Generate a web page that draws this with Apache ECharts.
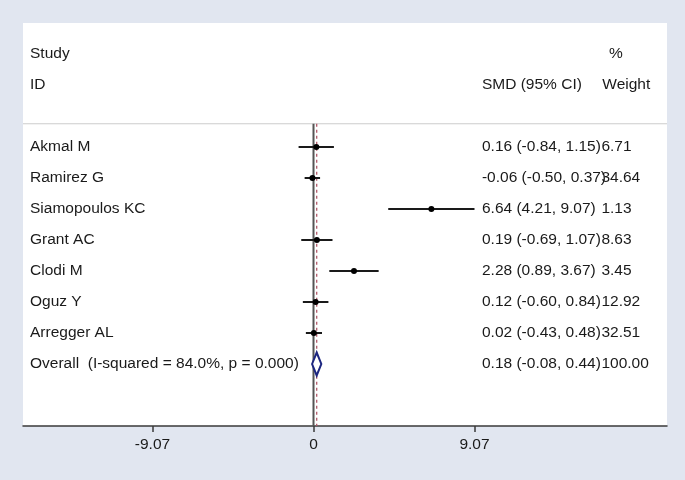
<!DOCTYPE html>
<html>
<head>
<meta charset="utf-8">
<script src="https://cdn.jsdelivr.net/npm/echarts@6/dist/echarts.min.js"></script>
<style>
  html, body { margin: 0; padding: 0; }
  #main { width: 685px; height: 480px; }
</style>
</head>
<body>
<div id="main"></div>
<script>
  // study data (SMD with 95% CI, % weight)
  const studies = ['Akmal M', 'Ramirez G', 'Siamopoulos KC', 'Grant AC', 'Clodi M', 'Oguz Y', 'Arregger AL'];
  const smd = [0.16, -0.06, 6.64, 0.19, 2.28, 0.12, 0.02];
  const lower = [-0.84, -0.50, 4.21, -0.69, 0.89, -0.60, -0.43];
  const upper = [1.15, 0.37, 9.07, 1.07, 3.67, 0.84, 0.48];
  const weights = [6.71, 34.64, 1.13, 8.63, 3.45, 12.92, 32.51];

  const overallLabel = 'Overall  (I-squared = 84.0%, p = 0.000)';
  const overallSmd = 0.18;
  const overallLower = -0.08;
  const overallUpper = 0.44;
  const overallWeight = 100.0;

  const xTicks = [-9.07, 0, 9.07];

  // layout (axis units)
  const X_MIN = -16.365;
  const X_MAX = 19.914;
  const COL_LABEL = -15.97;
  const COL_CI = 9.49;
  const COL_W = 16.22;
  const COL_PCT = 16.65;
  const SEP_Y = 0.25;
  const FONT = "'Liberation Sans', Arial, sans-serif";
  const FS = 15.5;
  const TXT = '#1a1a1a';

  const ciText = (m, l, u) => m.toFixed(2) + ' (' + l.toFixed(2) + ', ' + u.toFixed(2) + ')';

  function text(pt, str, align) {
    return {
      type: 'text',
      x: pt[0],
      y: pt[1],
      style: { text: str, fill: TXT, font: FS + 'px ' + FONT, align: align || 'left', verticalAlign: 'middle' },
    };
  }

  const studyData = studies.map((s, i) => [smd[i], lower[i], upper[i], i + 1, weights[i]]);

  const chart = echarts.init(document.getElementById('main'));
  const option = {
    backgroundColor: '#e1e6f0',
    animation: false,
    grid: {
      left: 23,
      right: 18,
      top: 23,
      bottom: 54,
      show: true,
      backgroundColor: '#ffffff',
      borderWidth: 0,
    },
    xAxis: {
      type: 'value',
      min: X_MIN,
      max: X_MAX,
      splitLine: { show: false },
      axisLine: { show: true, onZero: false, lineStyle: { color: '#3a3a3a', width: 1.5 } },
      axisTick: { show: true, customValues: xTicks, length: 6, lineStyle: { color: '#3a3a3a', width: 1.5 } },
      axisLabel: {
        customValues: xTicks,
        formatter: (v) => String(v),
        margin: 11,
        fontSize: FS,
        fontFamily: FONT,
        color: TXT,
      },
    },
    yAxis: { type: 'value', min: -3, max: 10, inverse: true, show: false },
    series: [
      {
        // header + separator + reference lines
        type: 'custom',
        data: [[0]],
        z: 1,
        renderItem: function (params, api) {
          const sepL = api.coord([X_MIN, SEP_Y]);
          const sepR = api.coord([X_MAX, SEP_Y]);
          const z0 = api.coord([0, SEP_Y]);
          const z1 = api.coord([0, 10]);
          const o0 = api.coord([overallSmd, SEP_Y]);
          const o1 = api.coord([overallSmd, 10]);
          return {
            type: 'group',
            children: [
              { type: 'line', shape: { x1: sepL[0], y1: sepL[1], x2: sepR[0], y2: sepR[1] }, style: { stroke: '#cccccc', lineWidth: 1.2 } },
              { type: 'line', shape: { x1: z0[0], y1: z0[1], x2: z1[0], y2: z1[1] }, style: { stroke: '#555555', lineWidth: 2 } },
              { type: 'line', shape: { x1: o0[0], y1: o0[1], x2: o1[0], y2: o1[1] }, style: { stroke: '#b05a6a', lineWidth: 1.3, lineDash: [3, 3] } },
              text(api.coord([COL_LABEL, -2]), 'Study'),
              text(api.coord([COL_LABEL, -1]), 'ID'),
              text(api.coord([COL_CI, -1]), 'SMD (95% CI)'),
              text(api.coord([COL_PCT, -2]), '%'),
              text(api.coord([COL_W + 0.05, -1]), 'Weight'),
            ],
          };
        },
      },
      {
        // individual studies
        type: 'custom',
        data: studyData,
        z: 3,
        renderItem: function (params, api) {
          const i = params.dataIndex;
          const y = api.value(3);
          const a = api.coord([api.value(1), y]);
          const b = api.coord([api.value(2), y]);
          const c = api.coord([api.value(0), y]);
          return {
            type: 'group',
            children: [
              { type: 'line', shape: { x1: a[0], y1: a[1], x2: b[0], y2: b[1] }, style: { stroke: '#1a1a1a', lineWidth: 2 } },
              { type: 'circle', shape: { cx: c[0], cy: c[1], r: 3 }, style: { fill: '#000' } },
              text(api.coord([COL_LABEL, y]), studies[i]),
              text(api.coord([COL_CI, y]), ciText(smd[i], lower[i], upper[i])),
              text(api.coord([COL_W, y]), weights[i].toFixed(2)),
            ],
          };
        },
      },
      {
        // pooled estimate diamond
        type: 'custom',
        data: [[overallSmd, overallLower, overallUpper, studies.length + 1]],
        z: 3,
        renderItem: function (params, api) {
          const y = api.value(3);
          const l = api.coord([api.value(1), y]);
          const r = api.coord([api.value(2), y]);
          const top = api.coord([api.value(0), y - 0.37]);
          const bot = api.coord([api.value(0), y + 0.37]);
          return {
            type: 'group',
            children: [
              {
                type: 'polygon',
                shape: { points: [l, top, r, bot] },
                style: { fill: '#ffffff', stroke: '#1c2680', lineWidth: 2 },
              },
              text(api.coord([COL_LABEL, y]), overallLabel),
              text(api.coord([COL_CI, y]), ciText(overallSmd, overallLower, overallUpper)),
              text(api.coord([COL_W, y]), overallWeight.toFixed(2)),
            ],
          };
        },
      },
    ],
  };
  chart.setOption(option);
</script>
</body>
</html>
